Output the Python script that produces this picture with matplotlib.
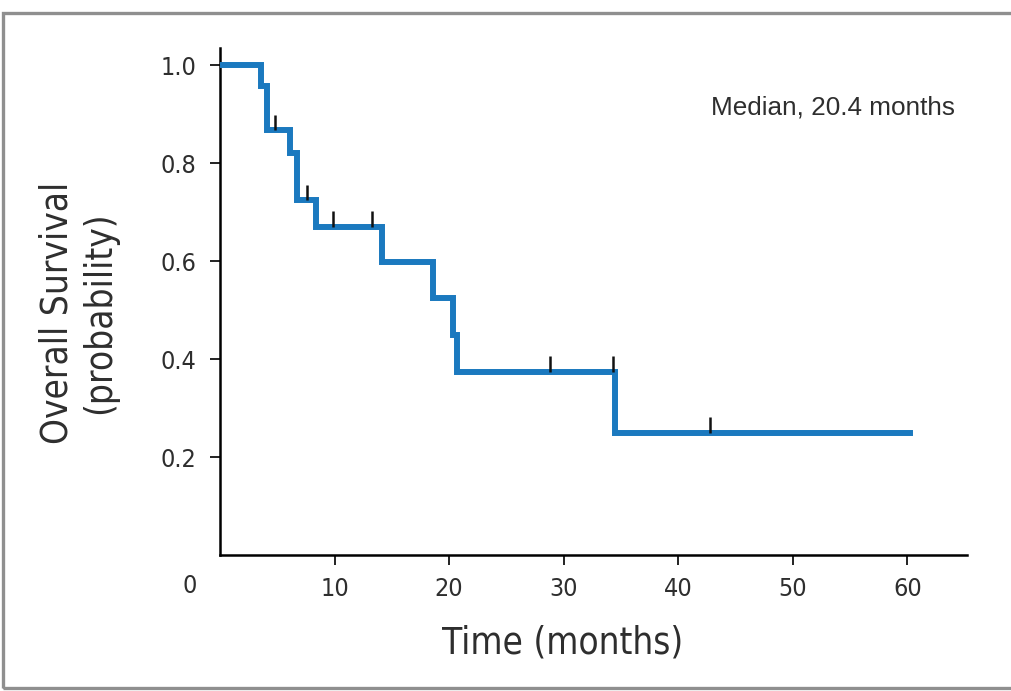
import numpy as np
import matplotlib
matplotlib.use('Agg')
import matplotlib.pyplot as plt
import matplotlib.font_manager as fm
from matplotlib.patches import Rectangle

# Kaplan-Meier steps
step_t = [0, 3.6, 4.1, 6.1, 6.7, 8.4, 14.1, 18.6, 20.3, 20.7, 34.5, 60.2]
step_s = [1.0, 0.957, 0.867, 0.820, 0.724, 0.670, 0.598, 0.524, 0.450, 0.374, 0.250, 0.250]

# censored patients
cens_t = [4.8, 7.6, 9.9, 13.3, 28.8, 34.3, 42.8]
cens_s = [0.867, 0.724, 0.670, 0.670, 0.374, 0.374, 0.250]

x_ticks = [10, 20, 30, 40, 50, 60]
y_ticks = [0.2, 0.4, 0.6, 0.8, 1.0]

# look for a condensed face, the original uses one
fonts = fm.fontManager.ttflist
cond = [f for f in fonts if f.stretch in ('condensed', 'semi-condensed', 'extra-condensed')
        or 'Condensed' in f.name or 'Narrow' in f.name]
if cond:
    narrow = fm.FontProperties(fname=cond[0].fname)
    for f in cond:
        if 'Bold' not in f.fname and 'Oblique' not in f.fname and 'Italic' not in f.fname:
            narrow = fm.FontProperties(fname=f.fname)
            break
else:
    narrow = fm.FontProperties(family='Roboto')

def nprop(size):
    p = narrow.copy()
    p.set_size(size)
    return p

fig = plt.figure(figsize=(10.12, 6.91), dpi=100)
ax = fig.add_axes([0.2174, 0.1968, 0.7381, 0.7337])

ax.step(step_t, step_s, where='post', color='#1b79bf', lw=4.3, solid_joinstyle='miter', zorder=3)
ax.vlines(cens_t, cens_s, np.array(cens_s) + 0.032, color='#111111', lw=1.8, zorder=4)

ax.set_xlim(0, 65.2)
ax.set_ylim(0, 1.035)
ax.spines['top'].set_visible(False)
ax.spines['right'].set_visible(False)
ax.spines['left'].set_linewidth(1.8)
ax.spines['bottom'].set_linewidth(1.8)

ax.set_xticks(x_ticks)
ax.set_yticks(y_ticks)
ax.set_yticklabels(['%.1f' % v for v in y_ticks])
ax.tick_params(axis='both', length=7, width=1.4, color='#222222', labelcolor='#2e2e2e')
ax.tick_params(axis='y', pad=10)
ax.tick_params(axis='x', pad=9)
for lab in ax.get_xticklabels() + ax.get_yticklabels():
    lab.set_fontproperties(nprop(18))

# the lone "0" at the corner
ax.annotate('0', xy=(0, 0), xytext=(-22, -22), textcoords='offset points',
            ha='center', va='center', color='#2e2e2e', fontproperties=nprop(18))

ax.set_xlabel('Time (months)', color='#2e2e2e', fontproperties=nprop(26.5))
ax.xaxis.set_label_coords(0.459, -0.137)
ax.text(-0.19, 0.477, 'Overall Survival\n(probability)', transform=ax.transAxes,
        rotation=90, ha='center', va='center', linespacing=1.18,
        color='#2e2e2e', fontproperties=nprop(26.5))

ax.text(42.9, 0.914, 'Median, 20.4 months', fontsize=18.8, color='#2e2e2e',
        family='Liberation Sans', va='center', ha='left')

# grey box around the panel
fig.patches.append(Rectangle((3 / 1012, 3 / 691), 1.1, 675 / 691, transform=fig.transFigure,
                             fill=False, ec='#8f8f8f', lw=2.4))

fig.savefig('out.png', dpi=100)
